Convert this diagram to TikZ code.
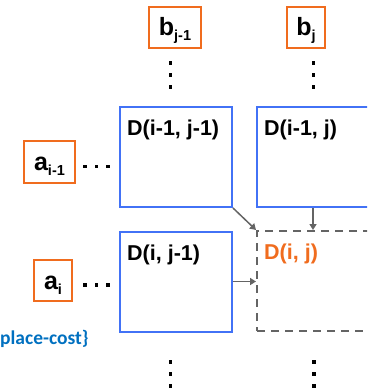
\documentclass[tikz,border=0pt]{standalone}
\usepackage{fontspec}
\setmainfont{Liberation Sans}
\newfontfamily\notefont{Carlito}
\usetikzlibrary{arrows.meta}

\definecolor{cellblue}{RGB}{66,114,246}
\definecolor{seqorange}{RGB}{240,108,30}
\definecolor{arrowgray}{RGB}{100,100,100}
\definecolor{noteblue}{RGB}{0,112,192}

\newcommand{\seqsym}[2]{\textbf{#1\raisebox{-5pt}{\fontsize{14.5}{15}\selectfont\bfseries #2}}}
\newcommand{\cellname}[2]{\textbf{D(#1, #2)}}

\tikzset{
  cell/.style={draw=cellblue, line width=2pt, minimum width=112pt, minimum height=100pt, inner sep=0pt},
  newcell/.style={cell, draw=arrowgray, dash pattern=on 8pt off 6pt},
  celltext/.style={anchor=north west, inner sep=0pt, xshift=8pt, yshift=-14pt, font=\fontsize{21.5}{25}\selectfont},
  seq/.style={draw=seqorange, line width=2pt, minimum height=41pt, inner sep=0pt,
    text height=18pt, text depth=1pt, font=\fontsize{25}{29}\selectfont},
  dep/.style={draw=arrowgray, line width=1.5pt, -{Triangle[length=6pt,width=7pt]}},
}

\begin{document}
\begin{tikzpicture}[x=1pt,y=-1pt]
\clip (0,0) rectangle (367,390);

% symbols of the two strings
\node[seq, minimum width=52pt] (bj1) at (175,27.5) {\seqsym{b}{j-1}};
\node[seq, minimum width=38pt] (bj) at (306,27.5) {\seqsym{b}{j}};
\node[seq, minimum width=51pt] (ai1) at (49.5,162) {\seqsym{a}{i-1}};
\node[seq, minimum width=38pt] (ai) at (53,280.5) {\seqsym{a}{i}};

% table cells
\node[cell, label={[celltext]north west:\cellname{i-1}{j-1}}] (Di1j1) at (176,157) {};
\node[cell, label={[celltext]north west:\cellname{i-1}{j}}] (Di1j) at (313,157) {};
\node[cell, label={[celltext]north west:\cellname{i}{j-1}}] (Dij1) at (176,281.5) {};
\node[newcell, label={[celltext,text=seqorange]north west:\cellname{i}{j}}] (Dij) at (313,281) {};

% dependencies
\draw[dep] (Di1j1.south east) -- (Dij.north west);
\draw[dep] (Di1j.south) -- (Dij.north);
\draw[dep] (Dij1.east) -- (Dij1.east -| Dij.west);

% dots
\foreach \x/\y in {170.5/63, 170.5/75, 170.5/87, 313.3/63, 313.3/75, 313.3/87,
                   170.7/362, 170.7/374, 170.7/386, 314/362, 314/374, 314/386,
                   85/166.7, 96.6/166.7, 108/166.7, 85/285, 96.6/285, 108/285}
  \fill (\x-1.7,\y-1.7) rectangle (\x+1.7,\y+1.7);

\node[anchor=base west, inner sep=0pt, text=noteblue, font=\notefont\bfseries\fontsize{19.5}{22}\selectfont] (note) at (0,344.3) {place-cost\}};
\end{tikzpicture}
\end{document}
